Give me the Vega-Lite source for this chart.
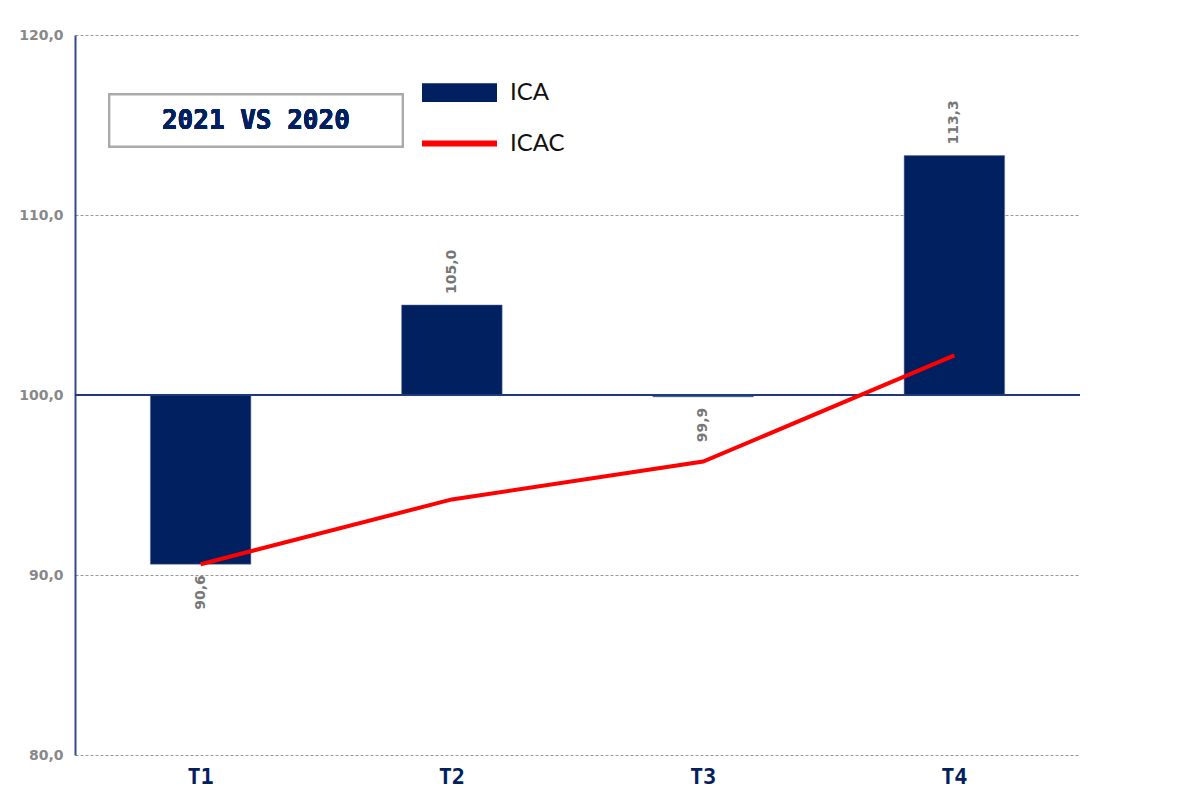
{
  "$schema": "https://vega.github.io/schema/vega-lite/v6.json",
  "autosize": {"type": "none"},
  "width": 1005,
  "height": 720,
  "padding": {"left": 75, "top": 35, "right": 103, "bottom": 35},
  "background": "white",
  "config": {
    "view": {"stroke": null},
    "locale": {"number": {"decimal": ",", "thousands": ".", "grouping": [3], "currency": ["", " €"]}}
  },
  "data": {"values": [
    {"q": "T1", "ICA": 90.6, "ICAC": 90.6},
    {"q": "T2", "ICA": 105.0, "ICAC": 94.2},
    {"q": "T3", "ICA": 99.9, "ICAC": 96.3},
    {"q": "T4", "ICA": 113.3, "ICAC": 102.2}
  ]},
  "transform": [{"fold": ["ICA", "ICAC"], "as": ["serie", "valor"]}],
  "encoding": {
    "x": {"field": "q", "type": "nominal", "sort": null,
      "scale": {"paddingInner": 0.6, "paddingOuter": 0.3},
      "axis": {"title": null, "domain": false, "ticks": false, "labelAngle": 0,
        "labelFont": "DejaVu Sans Mono", "labelFontWeight": "bold", "labelFontSize": 22,
        "labelColor": "#002060", "labelPadding": 11}}
  },
  "layer": [
    {
      "transform": [{"filter": "datum.serie == 'ICA'"}],
      "mark": {"type": "bar", "stroke": "#5a6f9a", "strokeWidth": 0.5},
      "encoding": {
        "y": {"field": "valor", "type": "quantitative",
          "scale": {"domain": [80, 120], "zero": false, "nice": false},
          "axis": {"title": null, "values": [80, 90, 100, 110, 120], "format": ".1f",
            "labelFont": "DejaVu Sans", "labelFontWeight": "bold", "labelFontSize": 14,
            "labelColor": "#888888", "labelPadding": 12, "ticks": false,
            "domainColor": "#2F4B8C", "domainWidth": 2,
            "grid": true, "gridColor": "#999999", "gridDash": [3, 2], "gridWidth": 1}},
        "y2": {"datum": 100},
        "color": {"field": "serie", "type": "nominal",
          "scale": {"domain": ["ICA"], "range": ["#002060"]},
          "legend": {"title": null, "orient": "none", "legendX": 347, "legendY": 20,
            "padding": 0, "symbolType": "M-1,-0.25H1V0.25H-1Z", "symbolSize": 5625,
            "symbolStrokeWidth": 0, "labelOffset": 13,
            "labelFont": "Lato", "labelFontSize": 24, "labelColor": "#111111"}}
      }
    },
    {
      "mark": {"type": "rule", "color": "#1F3A7A", "strokeWidth": 2},
      "encoding": {"y": {"datum": 100}, "x": null}
    },
    {
      "transform": [{"filter": "datum.serie == 'ICAC'"}],
      "mark": {"type": "line", "strokeWidth": 4},
      "encoding": {
        "y": {"field": "valor", "type": "quantitative"},
        "stroke": {"field": "serie", "type": "nominal",
          "scale": {"domain": ["ICAC"], "range": ["#FF0000"]},
          "legend": {"title": null, "orient": "none", "legendX": 344, "legendY": 68,
            "padding": 0, "symbolType": "stroke", "symbolSize": 5625,
            "symbolStrokeWidth": 6, "labelOffset": 10,
            "labelFont": "Lato", "labelFontSize": 24, "labelColor": "#111111"}}
      }
    },
    {
      "transform": [{"filter": "datum.serie == 'ICA' && datum.valor >= 100"}],
      "mark": {"type": "text", "angle": 270, "align": "left", "baseline": "middle", "dx": 11,
        "font": "DejaVu Sans", "fontWeight": "bold", "fontSize": 14, "color": "#777777"},
      "encoding": {
        "y": {"field": "valor", "type": "quantitative"},
        "text": {"field": "valor", "type": "quantitative", "format": ".1f"}
      }
    },
    {
      "transform": [{"filter": "datum.serie == 'ICA' && datum.valor < 100"}],
      "mark": {"type": "text", "angle": 270, "align": "right", "baseline": "middle", "dx": -11,
        "font": "DejaVu Sans", "fontWeight": "bold", "fontSize": 14, "color": "#777777"},
      "encoding": {
        "y": {"field": "valor", "type": "quantitative"},
        "text": {"field": "valor", "type": "quantitative", "format": ".1f"}
      }
    },
    {
      "mark": {"type": "rect", "fill": "white", "stroke": "#aaaaaa", "strokeWidth": 2, "xOffset": -41, "x2Offset": 1},
      "encoding": {
        "x": {"datum": "T1", "bandPosition": 0},
        "x2": {"datum": "T2", "bandPosition": 0},
        "y": {"datum": 116.7},
        "y2": {"datum": 113.8}
      }
    },
    {
      "mark": {"type": "text", "text": "2021 VS 2020", "font": "DejaVu Sans Mono", "fontWeight": "bold",
        "fontSize": 26, "color": "#002060", "align": "center", "baseline": "middle", "dx": 5},
      "encoding": {
        "x": {"datum": "T1", "bandPosition": 1},
        "y": {"datum": 115.25}
      }
    }
  ],
  "resolve": {"scale": {"color": "independent"}}
}
